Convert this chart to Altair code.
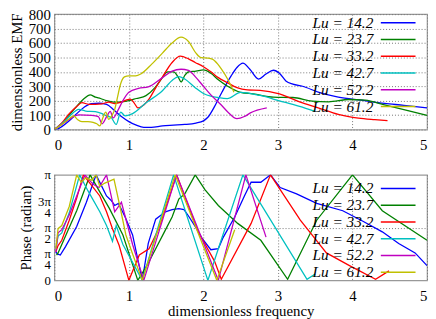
import math
import altair as alt
import pandas as pd

series = ["Lu = 14.2", "Lu = 23.7", "Lu = 33.2", "Lu = 42.7", "Lu = 52.2", "Lu = 61.2"]
colors = ["#0000ff", "#008000", "#ff0000", "#00c0c0", "#c000c0", "#c0c000"]

# ---- dimensionless EMF (top panel) ----
emf_f_142 = [0, 0.05, 0.1, 0.2, 0.3, 0.4, 0.5, 0.6, 0.7, 0.8, 0.9, 1.0, 1.1, 1.2, 1.3, 1.45, 1.6, 1.75, 1.9, 2.0, 2.06, 2.15, 2.25, 2.37, 2.45, 2.53, 2.62, 2.74, 2.84, 2.94, 3.02, 3.11, 3.2, 3.33, 3.55, 3.81, 4.12, 4.43, 4.69, 5.0]
emf_v_142 = [0, 5, 20, 60, 110, 155, 180, 182, 175, 135, 90, 55, 30, 15, 15, 25, 30, 35, 45, 60, 85, 160, 260, 370, 430, 460, 420, 350, 385, 411, 390, 335, 315, 300, 258, 225, 203, 181, 168, 150]

emf_f_237 = [0, 0.1, 0.2, 0.3, 0.4, 0.48, 0.55, 0.62, 0.7, 0.8, 0.9, 1.0, 1.1, 1.23, 1.35, 1.45, 1.52, 1.6, 1.66, 1.7, 1.75, 1.8, 1.9, 2.0, 2.1, 2.2, 2.32, 2.5, 2.67, 2.94, 3.2, 3.46, 3.68, 3.95, 4.17, 4.43, 4.69, 5.0]
emf_v_237 = [0, 40, 100, 160, 215, 240, 225, 215, 200, 190, 192, 200, 215, 235, 290, 360, 400, 400, 365, 330, 375, 400, 405, 413, 390, 345, 302, 258, 247, 225, 222, 197, 192, 208, 203, 170, 138, 98]

emf_f_332 = [0, 0.1, 0.2, 0.3, 0.37, 0.46, 0.55, 0.64, 0.73, 0.81, 0.9, 0.97, 1.02, 1.07, 1.12, 1.2, 1.27, 1.35, 1.45, 1.58, 1.69, 1.8, 1.89, 2.0, 2.1, 2.2, 2.32, 2.45, 2.59, 2.76, 3.02, 3.29, 3.55, 3.81, 4.08, 4.3, 4.47]
emf_v_332 = [0, 45, 110, 160, 186, 175, 175, 178, 190, 180, 190, 205, 210, 185, 150, 170, 210, 280, 364, 465, 509, 490, 465, 435, 400, 360, 325, 290, 275, 272, 247, 192, 149, 105, 79, 68, 61]

emf_f_427 = [0, 0.1, 0.2, 0.33, 0.42, 0.55, 0.64, 0.7, 0.76, 0.83, 0.89, 0.95, 1.0, 1.05, 1.23, 1.45, 1.58, 1.67, 1.75, 1.89, 2.0, 2.11, 2.19, 2.32, 2.5, 2.76, 3.02, 3.29, 3.49]
emf_v_427 = [0, 40, 90, 140, 128, 124, 110, 95, 85, 35, 120, 95, 100, 110, 185, 269, 340, 367, 350, 290, 250, 230, 222, 214, 258, 236, 199, 160, 127]

emf_f_522 = [0, 0.1, 0.2, 0.33, 0.5, 0.59, 0.64, 0.7, 0.75, 0.79, 0.86, 0.92, 1.0, 1.13, 1.26, 1.45, 1.58, 1.7, 1.8, 1.89, 2.0, 2.1, 2.24, 2.33, 2.45, 2.55, 2.63, 2.85]
emf_v_522 = [0, 35, 70, 102, 98, 90, 40, 87, 125, 80, 140, 200, 258, 285, 295, 360, 405, 418, 410, 367, 300, 240, 170, 120, 75, 90, 115, 150]

emf_f_612 = [0, 0.1, 0.2, 0.26, 0.31, 0.37, 0.45, 0.52, 0.57, 0.61, 0.65, 0.69, 0.73, 0.77, 0.81, 0.85, 0.88, 0.94, 1.0, 1.09, 1.16, 1.31, 1.45, 1.58, 1.7, 1.8, 1.9, 1.97, 2.06, 2.12, 2.19, 2.24, 2.33, 2.41]
emf_v_612 = [0, 35, 75, 95, 70, 55, 55, 50, 40, 25, 80, 120, 70, 95, 140, 230, 300, 365, 372, 372, 385, 455, 530, 600, 640, 610, 530, 498, 495, 488, 455, 420, 345, 258]

# ---- phase, in multiples of pi (bottom panel) ----
ph_f_142 = [0.02, 0.04, 0.08, 0.15, 0.3, 0.43, 0.56, 0.63, 0.7, 0.76, 0.81, 0.86, 0.95, 1.05, 1.18, 1.26, 1.36, 1.49, 1.58, 1.67, 1.74, 1.8, 1.9, 1.98, 2.1, 2.2, 2.26, 2.42, 2.55, 2.64, 2.77, 2.9, 3.03, 3.25, 3.52, 3.87, 4.14, 4.4, 4.62, 4.84, 5.0]
ph_r_142 = [0.27, 0.25, 0.24, 0.32, 0.51, 0.74, 1.0, 0.9, 0.8, 0.76, 0.71, 0.73, 0.6, 0.43, 0.0, 0.35, 0.58, 0.65, 0.67, 0.68, 0.67, 0.61, 0.5, 0.40, 0.29, 0.30, 0.40, 0.6, 0.8, 0.93, 0.93, 1.0, 0.88, 0.82, 0.73, 0.66, 0.56, 0.46, 0.35, 0.26, 0.14]

ph_f_237 = [0.03, 0.05, 0.1, 0.2, 0.3, 0.4, 0.48, 0.6, 0.74, 0.92, 1.12, 1.25, 1.36, 1.47, 1.58, 1.67, 1.75, 1.89, 2.02, 2.2, 2.46, 2.77, 3.13, 3.52, 4.0, 4.4, 5.0]
ph_r_237 = [0.24, 0.26, 0.34, 0.5, 0.66, 0.85, 1.0, 0.85, 0.68, 0.43, 0.0, 0.15, 0.30, 0.45, 0.60, 0.77, 0.82, 1.0, 0.86, 0.71, 0.54, 0.38, 0.01, 0.57, 1.0, 0.66, 0.38]

ph_f_332 = [0.02, 0.05, 0.1, 0.2, 0.3, 0.39, 0.5, 0.61, 0.7, 0.78, 0.87, 1.0, 1.14, 1.27, 1.4, 1.64, 1.93, 2.15, 2.24, 2.64, 2.9, 3.3, 3.65, 3.96, 4.31, 4.49]
ph_r_332 = [0.27, 0.33, 0.38, 0.57, 0.78, 1.0, 0.9, 0.80, 0.65, 0.49, 0.33, 0.0, 0.24, 0.30, 0.49, 1.0, 0.46, 0.18, 0.01, 0.54, 1.0, 0.57, 0.26, 0.14, 0.01, 0.09]

ph_f_427 = [0.02, 0.05, 0.1, 0.2, 0.34, 0.45, 0.61, 0.7, 0.78, 0.83, 0.92, 1.18, 1.6, 2.06, 2.2, 2.53, 3.39, 3.5]
ph_r_427 = [0.30, 0.42, 0.45, 0.64, 1.0, 0.85, 0.65, 0.52, 0.37, 0.52, 0.34, 0.0, 1.0, 0.0, 0.30, 1.0, 0.01, 0.06]

ph_f_522 = [0.02, 0.05, 0.1, 0.2, 0.3, 0.41, 0.47, 0.52, 0.6, 0.7, 0.81, 0.9, 1.05, 1.2, 1.64, 2.2, 2.57, 2.84]
ph_r_522 = [0.27, 0.45, 0.48, 0.62, 0.80, 1.0, 0.95, 0.91, 0.88, 1.0, 0.65, 0.74, 0.34, 0.0, 1.0, 0.0, 1.0, 0.41]

ph_f_612 = [0.02, 0.05, 0.1, 0.2, 0.3, 0.36, 0.42, 0.5, 0.56, 0.61, 0.67, 0.74, 0.8, 0.88, 0.96, 1.05, 1.18, 1.62, 2.18, 2.42]
ph_r_612 = [0.30, 0.49, 0.52, 0.7, 1.0, 0.93, 0.97, 0.95, 1.0, 0.89, 0.92, 0.94, 0.96, 0.7, 0.43, 0.25, 0.0, 1.0, 0.0, 0.48]

emf_sets = [(emf_f_142, emf_v_142), (emf_f_237, emf_v_237), (emf_f_332, emf_v_332),
            (emf_f_427, emf_v_427), (emf_f_522, emf_v_522), (emf_f_612, emf_v_612)]
ph_sets = [(ph_f_142, ph_r_142), (ph_f_237, ph_r_237), (ph_f_332, ph_r_332),
           (ph_f_427, ph_r_427), (ph_f_522, ph_r_522), (ph_f_612, ph_r_612)]

emf_rows = []
for name, (fs, vs) in zip(series, emf_sets):
    for f, v in zip(fs, vs):
        emf_rows.append({"series": name, "f": f, "v": v})
ph_rows = []
for name, (fs, rs) in zip(series, ph_sets):
    for f, r in zip(fs, rs):
        ph_rows.append({"series": name, "f": f, "v": r * math.pi})
emf_df = pd.DataFrame(emf_rows)
ph_df = pd.DataFrame(ph_rows)

FONT = "Liberation Serif"
GRID = dict(grid=True, gridDash=[1, 2], gridColor="#777777", gridWidth=1)

color_scale = alt.Scale(domain=series, range=colors)


def legend(y):
    return alt.Legend(
        title=None, orient="none", legendX=341, legendY={"expr": str(y)}, padding=0,
        symbolType="M-3.2,0H3.2", symbolSize=121, symbolStrokeWidth=1.5,
        symbolFillColor="transparent",
        labelAlign="right", labelOffset={"expr": "-33"}, labelFont=FONT, labelFontSize=15.5,
        labelFontStyle="italic", rowPadding={"expr": "-8.2"}, labelLimit=200,
    )


top = alt.Chart(emf_df).mark_line(strokeWidth=1.3, interpolate="monotone", clip=True).encode(
    x=alt.X("f:Q", scale=alt.Scale(domain=[0, 5], nice=False),
            axis=alt.Axis(values=[0, 1, 2, 3, 4, 5], format="d", title=None, **GRID)),
    y=alt.Y("v:Q", scale=alt.Scale(domain=[0, 800], nice=False),
            axis=alt.Axis(values=[0, 100, 200, 300, 400, 500, 600, 700, 800], labelOverlap=False,
                          title="dimensionless EMF", **GRID)),
    color=alt.Color("series:N", scale=color_scale, sort=series, legend=legend(1)),
).properties(width=378, height=117)

bottom = alt.Chart(ph_df).mark_line(strokeWidth=1.3, clip=True).encode(
    x=alt.X("f:Q", scale=alt.Scale(domain=[0, 5], nice=False),
            axis=alt.Axis(values=[0, 1, 2, 3, 4, 5], format="d", title="dimensionless frequency",
                          titlePadding=0, **GRID)),
    y=alt.Y("v:Q", scale=alt.Scale(domain=[0, math.pi], nice=False),
            axis=alt.Axis(values=[0, math.pi / 4, math.pi / 2, 3 * math.pi / 4, math.pi],
                          labelExpr="datum.value < 0.1 ? '0' : datum.value < 1 ? ['π','4'] : datum.value < 2 ? ['π','2'] : datum.value < 3 ? ['3π','4'] : 'π'",
                          labelLineHeight=11, labelOverlap=False, labelFontSize=13,
                          title="Phase (radian)",
                          grid=True, gridDash=[1, 2], gridColor="#777777",
                          gridOpacity=alt.condition("abs(datum.value - PI/2) < 0.01", alt.value(1), alt.value(0)))),
    color=alt.Color("series:N", scale=color_scale, sort=series, legend=legend(6)),
).properties(width=378, height=107)

chart = alt.vconcat(top, bottom, spacing=14).resolve_legend(color="independent").properties(
    padding={"expr": "{top: -4, left: 0, right: 0, bottom: 0}"}
).configure_view(stroke="#999999", strokeWidth=1.2).configure_axis(
    labelFont=FONT, labelFontSize=15, labelColor="#000000", titleFont=FONT, titleFontSize=15,
    titleFontWeight="normal", titleColor="#000000", domain=False, ticks=False, labelPadding=4,
    titlePadding=4,
).configure_axisX(labelPadding=8.5)

chart.save("out.html", embed_options={"renderer": "svg", "actions": False})
